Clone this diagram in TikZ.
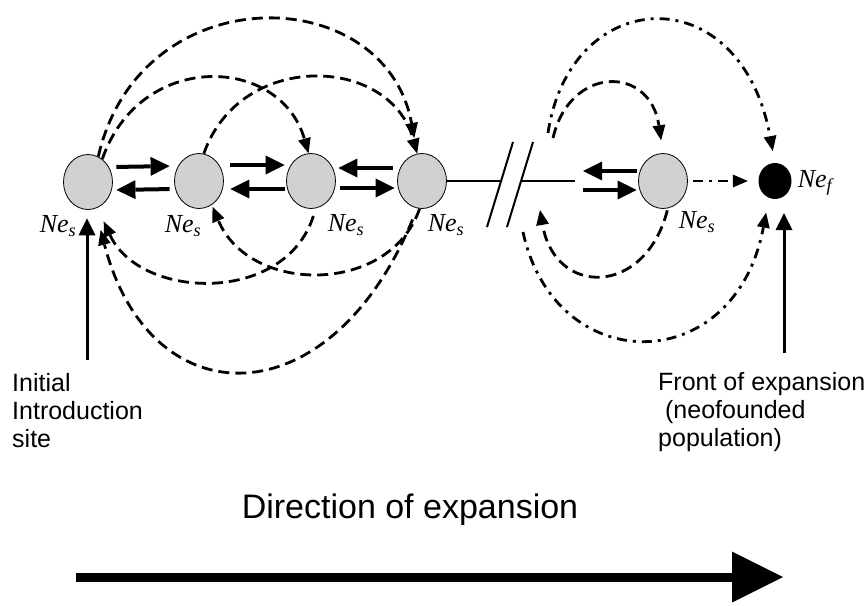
\documentclass[tikz,border=0pt]{standalone}
\usepackage{fontspec}
\setmainfont{Liberation Serif}
\newfontfamily\labfont{Liberation Sans}
\usetikzlibrary{arrows.meta,shapes.geometric}
\begin{document}
\begin{tikzpicture}[x=1pt,y=-1pt,
 pop/.style={ellipse,draw=black,line width=0.8pt,fill=black!18,minimum width=49pt,minimum height=55pt,inner sep=0pt},
 frontpop/.style={ellipse,fill=black,minimum width=33pt,minimum height=36pt,inner sep=0pt},
 nelab/.style={font=\fontsize{26}{30}\selectfont\itshape,inner sep=0pt},
 harrow/.style={line width=4pt,-{Triangle[length=19pt,width=19pt,line width=0pt]}},
 varrow/.style={line width=3pt,-{Triangle[length=17pt,width=17pt,line width=0pt]}},
 dsh/.style={line width=2.8pt,dash pattern=on 11pt off 6pt,-{Triangle[length=15pt,width=13pt,line width=0pt]}},
 dshdot/.style={line width=2.8pt,dash pattern=on 10pt off 6pt on 3pt off 6pt,-{Triangle[length=15pt,width=13pt,line width=0pt]}},
 txt/.style={font=\labfont\fontsize{25}{28}\selectfont,inner sep=0pt,align=left}
]
\useasboundingbox (0,0) rectangle (867,605);

% populations
\node[pop] (n1) at (88,182) {};
\node[pop] (n2) at (199,181) {};
\node[pop] (n3) at (311,181) {};
\node[pop] (n4) at (422,181) {};
\node[pop] (n5) at (663,181) {};
\node[frontpop] (nf) at (775,181) {};

\node[nelab] (l1) at (58,226) {Ne\textsubscript{s}};
\node[nelab] (l2) at (183,226) {Ne\textsubscript{s}};
\node[nelab] (l3) at (346,225) {Ne\textsubscript{s}};
\node[nelab] (l4) at (446,225) {Ne\textsubscript{s}};
\node[nelab] (l5) at (697,222) {Ne\textsubscript{s}};
\node[nelab] (lf) at (815,183) {Ne\textsubscript{f}};

% stepping-stone arrows
\draw[harrow,shorten <=3.5pt,shorten >=4.5pt] ([yshift=15pt]n1.east) -- ([yshift=15pt]n2.west);
\draw[harrow,shorten <=4.5pt,shorten >=3.5pt] ([yshift=-8pt]n2.west) -- ([yshift=-8pt]n1.east);
\draw[harrow,shorten <=6.5pt,shorten >=1.5pt] ([yshift=16pt]n2.east) -- ([yshift=16pt]n3.west);
\draw[harrow,shorten <=1.5pt,shorten >=6.5pt] ([yshift=-8pt]n3.west) -- ([yshift=-8pt]n2.east);
\draw[harrow,shorten <=4.5pt,shorten >=2.5pt] ([yshift=13pt]n4.west) -- ([yshift=13pt]n3.east);
\draw[harrow,shorten <=4.5pt,shorten >=2.5pt] ([yshift=-7pt]n3.east) -- ([yshift=-7pt]n4.west);

% break
\coordinate (bL) at (501,181);
\coordinate (bM) at (521,181);
\coordinate (bE) at (575,181);
\coordinate (s1a) at (487,227);
\coordinate (s1b) at (513,142);
\coordinate (s2a) at (507,227);
\coordinate (s2b) at (533,142);
\draw[line width=1.6pt] (n4.east) -- (bL);
\draw[line width=1.6pt] (bM) -- (bE);
\draw[line width=2pt] (s1a) -- (s1b);
\draw[line width=2pt] (s2a) -- (s2b);

\draw[harrow,shorten <=1.5pt,shorten >=8pt] ([yshift=10pt]n5.west) -- ([yshift=10pt]bE);
\draw[harrow,shorten <=8pt,shorten >=1.5pt] ([yshift=-9pt]bE) -- ([yshift=-9pt]n5.west);
\draw[dshdot,shorten <=5.5pt,shorten >=10.5pt] (n5.east) -- (nf.west);

% long-distance dispersal, upper
\draw[dsh,shorten >=16pt] (n1.68) .. controls (140,-25) and (385,-20) .. (n4.100);
\draw[dsh] (n1.58) .. controls (140,50) and (280,55) .. (n3.95);
\draw[dsh] (n2.80) .. controls (240,50) and (390,55) .. (n4.100);

% lower
\draw[dsh,shorten <=8pt,shorten >=15pt] (n3.-80) .. controls (285,305) and (140,300) .. (n1.-70);
\draw[dsh,shorten >=2pt] (n4.-95) .. controls (390,295) and (250,295) .. (n2.-62);
\draw[dsh,shorten <=12pt,shorten >=22pt] (n4.-100) .. controls (330,420) and (150,420) .. (n1.-75);

% right side
\coordinate (tD1) at (548,133);
\coordinate (tD2) at (553,138);
\coordinate (tD4) at (523,232);
\coordinate (bT) at (540,210);
\draw[dshdot,shorten >=12pt] (tD1) .. controls (570,-15) and (740,-25) .. (nf.north);
\draw[dsh,shorten >=13pt] (tD2) .. controls (570,65) and (650,65) .. (n5.north);
\draw[dsh,shorten <=2pt] (n5.-80) .. controls (645,297) and (555,297) .. (bT);
\draw[dshdot,shorten >=15pt] (tD4) .. controls (555,379) and (735,379) .. (nf.-110);

% site arrows
\coordinate (iL) at (87,360);
\coordinate (iR) at (784,353);
\draw[varrow,shorten >=8.5pt] (iL) -- (iL |- n1.south);
\draw[varrow,shorten >=14pt] (iR) -- (iR |- nf.south);

\node[txt,anchor=north west] (tL) at (12,373) {Initial\\Introduction\\site};
\node[txt,anchor=north west] (tR) at (658,372) {Front of expansion\\\ (neofounded\\population)};

\node[font=\labfont\fontsize{34}{40}\selectfont,anchor=base,inner sep=0pt] (dir) at (410,518) {Direction of expansion};

\coordinate (aS) at (76,577);
\coordinate (aE) at (783,577);
\draw[line width=9pt,-{Triangle[length=51pt,width=51pt,line width=0pt]}] (aS) -- (aE);
\end{tikzpicture}
\end{document}
